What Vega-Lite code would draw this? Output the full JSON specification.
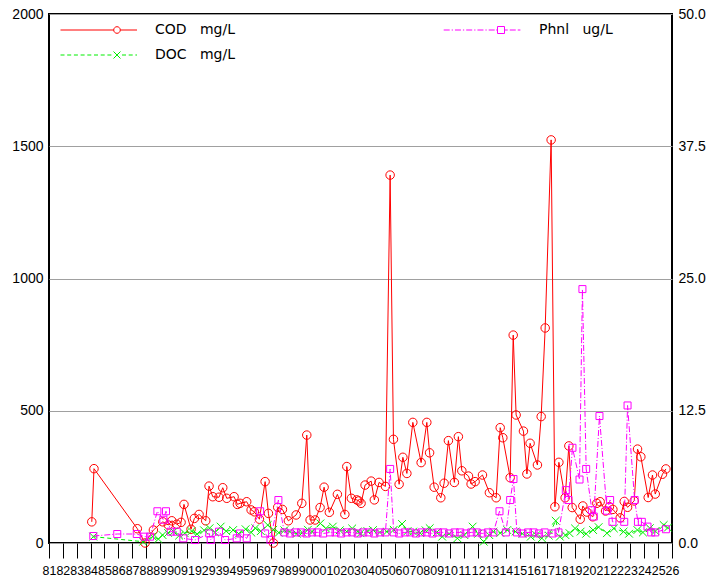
{
  "$schema": "https://vega.github.io/schema/vega-lite/v6.json",
  "width": 623,
  "height": 529,
  "autosize": {"type": "none"},
  "padding": {"left": 49, "top": 14, "right": 47, "bottom": 42},
  "background": "white",
  "config": {
    "view": {"stroke": "black", "strokeWidth": 2},
    "axis": {"domain": false, "labelColor": "black", "labelFont": "Liberation Sans", "title": null}
  },
  "datasets": {
    "cod": [
      {"t": 1984.09, "v": 80}, {"t": 1984.25, "v": 281}, {"t": 1987.38, "v": 54}, {"t": 1987.94, "v": 0},
      {"t": 1988.54, "v": 49}, {"t": 1989.22, "v": 80}, {"t": 1989.62, "v": 68}, {"t": 1989.87, "v": 84},
      {"t": 1990.23, "v": 71}, {"t": 1990.54, "v": 78}, {"t": 1990.75, "v": 146}, {"t": 1991.26, "v": 52},
      {"t": 1991.5, "v": 93}, {"t": 1991.84, "v": 108}, {"t": 1992.32, "v": 84}, {"t": 1992.56, "v": 215},
      {"t": 1992.83, "v": 175}, {"t": 1993.28, "v": 173}, {"t": 1993.55, "v": 209}, {"t": 1993.84, "v": 169},
      {"t": 1994.37, "v": 175}, {"t": 1994.61, "v": 146}, {"t": 1994.8, "v": 150}, {"t": 1995.28, "v": 156},
      {"t": 1995.6, "v": 125}, {"t": 1995.83, "v": 118}, {"t": 1996.2, "v": 90}, {"t": 1996.61, "v": 232},
      {"t": 1996.85, "v": 112}, {"t": 1997.21, "v": 0}, {"t": 1997.52, "v": 135}, {"t": 1997.86, "v": 127},
      {"t": 1998.29, "v": 84}, {"t": 1998.85, "v": 106}, {"t": 1999.26, "v": 150}, {"t": 1999.62, "v": 408},
      {"t": 1999.86, "v": 87}, {"t": 2000.22, "v": 87}, {"t": 2000.58, "v": 134}, {"t": 2000.87, "v": 211},
      {"t": 2001.25, "v": 116}, {"t": 2001.83, "v": 184}, {"t": 2002.37, "v": 108}, {"t": 2002.51, "v": 289},
      {"t": 2002.84, "v": 169}, {"t": 2003.23, "v": 163}, {"t": 2003.38, "v": 159}, {"t": 2003.54, "v": 150},
      {"t": 2003.83, "v": 219}, {"t": 2004.27, "v": 234}, {"t": 2004.5, "v": 163}, {"t": 2004.84, "v": 229},
      {"t": 2005.3, "v": 214}, {"t": 2005.64, "v": 1391}, {"t": 2005.88, "v": 392}, {"t": 2006.29, "v": 222},
      {"t": 2006.56, "v": 324}, {"t": 2006.85, "v": 263}, {"t": 2007.28, "v": 456}, {"t": 2007.88, "v": 304},
      {"t": 2008.29, "v": 456}, {"t": 2008.49, "v": 341}, {"t": 2008.82, "v": 211}, {"t": 2009.3, "v": 171},
      {"t": 2009.54, "v": 226}, {"t": 2009.85, "v": 387}, {"t": 2010.28, "v": 229}, {"t": 2010.57, "v": 402},
      {"t": 2010.82, "v": 273}, {"t": 2011.3, "v": 253}, {"t": 2011.49, "v": 223}, {"t": 2011.78, "v": 232},
      {"t": 2012.31, "v": 257}, {"t": 2012.81, "v": 190}, {"t": 2013.3, "v": 171}, {"t": 2013.59, "v": 436},
      {"t": 2013.78, "v": 398}, {"t": 2014.31, "v": 247}, {"t": 2014.53, "v": 786}, {"t": 2014.74, "v": 484},
      {"t": 2015.27, "v": 423}, {"t": 2015.52, "v": 261}, {"t": 2015.75, "v": 377}, {"t": 2016.28, "v": 295},
      {"t": 2016.55, "v": 478}, {"t": 2016.84, "v": 813}, {"t": 2017.27, "v": 1524}, {"t": 2017.54, "v": 137},
      {"t": 2017.83, "v": 305}, {"t": 2018.28, "v": 171}, {"t": 2018.55, "v": 367}, {"t": 2018.79, "v": 134},
      {"t": 2019.37, "v": 90}, {"t": 2019.56, "v": 140}, {"t": 2019.85, "v": 117}, {"t": 2020.28, "v": 99},
      {"t": 2020.57, "v": 150}, {"t": 2020.81, "v": 156}, {"t": 2021.2, "v": 121}, {"t": 2021.48, "v": 137},
      {"t": 2021.73, "v": 127}, {"t": 2022.26, "v": 95}, {"t": 2022.55, "v": 157}, {"t": 2022.79, "v": 135},
      {"t": 2023.27, "v": 159}, {"t": 2023.51, "v": 355}, {"t": 2023.75, "v": 326}, {"t": 2024.28, "v": 172},
      {"t": 2024.59, "v": 257}, {"t": 2024.79, "v": 185}, {"t": 2025.31, "v": 260}, {"t": 2025.56, "v": 280}
    ],
    "doc": [
      {"t": 1984.2, "v": 24}, {"t": 1987.8, "v": 5}, {"t": 1988.5, "v": 24}, {"t": 1988.9, "v": 15},
      {"t": 1989.2, "v": 30}, {"t": 1989.6, "v": 38}, {"t": 1990.0, "v": 43}, {"t": 1990.4, "v": 28},
      {"t": 1990.8, "v": 37}, {"t": 1991.3, "v": 45}, {"t": 1991.7, "v": 34}, {"t": 1992.2, "v": 48},
      {"t": 1992.6, "v": 56}, {"t": 1993.0, "v": 40}, {"t": 1993.4, "v": 62}, {"t": 1993.8, "v": 45},
      {"t": 1994.3, "v": 49}, {"t": 1994.7, "v": 35}, {"t": 1995.2, "v": 52}, {"t": 1995.6, "v": 40},
      {"t": 1995.9, "v": 56}, {"t": 1996.3, "v": 45}, {"t": 1996.8, "v": 68}, {"t": 1997.2, "v": 50},
      {"t": 1997.6, "v": 39}, {"t": 1998.0, "v": 48}, {"t": 1998.4, "v": 43}, {"t": 1998.9, "v": 35},
      {"t": 1999.3, "v": 39}, {"t": 1999.7, "v": 50}, {"t": 2000.0, "v": 43}, {"t": 2000.6, "v": 74},
      {"t": 2001.0, "v": 55}, {"t": 2001.5, "v": 62}, {"t": 2002.0, "v": 48}, {"t": 2002.5, "v": 43},
      {"t": 2002.9, "v": 55}, {"t": 2003.3, "v": 43}, {"t": 2003.5, "v": 37}, {"t": 2004.0, "v": 45},
      {"t": 2004.4, "v": 49}, {"t": 2004.9, "v": 40}, {"t": 2005.4, "v": 43}, {"t": 2005.9, "v": 50},
      {"t": 2006.5, "v": 72}, {"t": 2006.9, "v": 45}, {"t": 2007.3, "v": 43}, {"t": 2007.8, "v": 38},
      {"t": 2008.2, "v": 48}, {"t": 2008.5, "v": 56}, {"t": 2009.0, "v": 40}, {"t": 2009.4, "v": 24},
      {"t": 2009.9, "v": 35}, {"t": 2010.5, "v": 18}, {"t": 2011.0, "v": 30}, {"t": 2011.6, "v": 62},
      {"t": 2012.0, "v": 35}, {"t": 2012.4, "v": 5}, {"t": 2012.8, "v": 30}, {"t": 2013.1, "v": 43},
      {"t": 2013.6, "v": 38}, {"t": 2014.1, "v": 49}, {"t": 2014.7, "v": 43}, {"t": 2015.2, "v": 35},
      {"t": 2015.8, "v": 24}, {"t": 2016.2, "v": 30}, {"t": 2016.6, "v": 18}, {"t": 2017.1, "v": 28},
      {"t": 2017.6, "v": 84}, {"t": 2017.9, "v": 24}, {"t": 2018.3, "v": 30}, {"t": 2018.6, "v": 37},
      {"t": 2019.0, "v": 55}, {"t": 2019.4, "v": 43}, {"t": 2019.8, "v": 35}, {"t": 2020.3, "v": 49},
      {"t": 2020.7, "v": 60}, {"t": 2021.3, "v": 37}, {"t": 2021.8, "v": 55}, {"t": 2022.5, "v": 43},
      {"t": 2022.9, "v": 35}, {"t": 2023.5, "v": 49}, {"t": 2023.9, "v": 40}, {"t": 2024.4, "v": 56},
      {"t": 2024.8, "v": 45}, {"t": 2025.4, "v": 68}, {"t": 2025.7, "v": 58}
    ],
    "phnl": [
      {"t": 1984.2, "v": 0.66}, {"t": 1985.93, "v": 0.85}, {"t": 1987.34, "v": 0.85}, {"t": 1987.89, "v": 0.6},
      {"t": 1988.3, "v": 0.6}, {"t": 1988.83, "v": 3.0}, {"t": 1989.26, "v": 2.2}, {"t": 1989.45, "v": 3.0},
      {"t": 1989.79, "v": 1.07}, {"t": 1990.23, "v": 1.07}, {"t": 1990.7, "v": 0.44}, {"t": 1991.55, "v": 0.28},
      {"t": 1992.58, "v": 0.9}, {"t": 1992.68, "v": 0.28}, {"t": 1993.28, "v": 1.07}, {"t": 1993.72, "v": 0.28},
      {"t": 1994.56, "v": 0.44}, {"t": 1994.8, "v": 0.9}, {"t": 1995.28, "v": 0.44}, {"t": 1996.25, "v": 3.0},
      {"t": 1996.61, "v": 0.9}, {"t": 1997.0, "v": 0.3}, {"t": 1997.57, "v": 4.06}, {"t": 1998.0, "v": 1.0},
      {"t": 1998.4, "v": 0.9}, {"t": 1998.8, "v": 1.0}, {"t": 1999.2, "v": 1.0}, {"t": 1999.6, "v": 0.9},
      {"t": 2000.0, "v": 1.0}, {"t": 2000.4, "v": 1.0}, {"t": 2000.8, "v": 0.9}, {"t": 2001.3, "v": 1.0},
      {"t": 2001.7, "v": 1.0}, {"t": 2002.1, "v": 0.9}, {"t": 2002.5, "v": 1.0}, {"t": 2002.9, "v": 1.0},
      {"t": 2003.3, "v": 0.9}, {"t": 2003.7, "v": 1.0}, {"t": 2004.1, "v": 1.0}, {"t": 2004.5, "v": 0.9},
      {"t": 2004.9, "v": 1.0}, {"t": 2005.3, "v": 1.0}, {"t": 2005.64, "v": 7.0}, {"t": 2005.9, "v": 1.0},
      {"t": 2006.3, "v": 0.9}, {"t": 2006.7, "v": 1.0}, {"t": 2007.1, "v": 1.0}, {"t": 2007.5, "v": 0.9},
      {"t": 2007.9, "v": 1.0}, {"t": 2008.3, "v": 1.0}, {"t": 2008.7, "v": 0.9}, {"t": 2009.1, "v": 1.0},
      {"t": 2009.5, "v": 1.0}, {"t": 2009.9, "v": 0.9}, {"t": 2010.3, "v": 1.0}, {"t": 2010.7, "v": 1.0},
      {"t": 2011.1, "v": 0.9}, {"t": 2011.5, "v": 1.0}, {"t": 2011.9, "v": 1.0}, {"t": 2012.3, "v": 0.9},
      {"t": 2012.7, "v": 1.0}, {"t": 2013.1, "v": 1.0}, {"t": 2013.54, "v": 3.0}, {"t": 2014.0, "v": 1.0},
      {"t": 2014.31, "v": 4.06}, {"t": 2014.55, "v": 6.05}, {"t": 2014.8, "v": 1.0}, {"t": 2015.2, "v": 0.9},
      {"t": 2015.6, "v": 1.0}, {"t": 2016.0, "v": 1.0}, {"t": 2016.4, "v": 0.9}, {"t": 2016.8, "v": 1.0},
      {"t": 2017.37, "v": 0.9}, {"t": 2017.8, "v": 1.0}, {"t": 2018.33, "v": 5.0}, {"t": 2018.52, "v": 4.06},
      {"t": 2018.81, "v": 9.0}, {"t": 2019.32, "v": 6.0}, {"t": 2019.53, "v": 24.0}, {"t": 2019.8, "v": 7.0},
      {"t": 2020.21, "v": 3.1}, {"t": 2020.35, "v": 2.5}, {"t": 2020.76, "v": 12.0}, {"t": 2021.3, "v": 3.05},
      {"t": 2021.53, "v": 4.06}, {"t": 2021.7, "v": 2.0}, {"t": 2022.55, "v": 2.0}, {"t": 2022.79, "v": 13.0},
      {"t": 2023.3, "v": 4.06}, {"t": 2023.54, "v": 2.0}, {"t": 2023.82, "v": 2.0}, {"t": 2024.23, "v": 1.55},
      {"t": 2024.5, "v": 1.0}, {"t": 2024.79, "v": 1.0}, {"t": 2025.56, "v": 1.3}
    ],
    "legL": [{"s": "COD\u00a0\u00a0\u00a0mg/L"}, {"s": "DOC\u00a0\u00a0\u00a0mg/L"}],
    "legR": [{"s": "Phnl\u00a0\u00a0\u00a0ug/L"}]
  },
  "encoding": {
    "x": {
      "field": "t", "type": "quantitative",
      "scale": {"domain": [1981, 2026], "nice": false, "zero": false},
      "axis": {
        "values": [1981,1982,1983,1984,1985,1986,1987,1988,1989,1990,1991,1992,1993,1994,1995,1996,1997,1998,1999,2000,2001,2002,2003,2004,2005,2006,2007,2008,2009,2010,2011,2012,2013,2014,2015,2016,2017,2018,2019,2020,2021,2022,2023,2024,2025,2026],
        "labelExpr": "substring(toString(datum.value), 2, 4)",
        "tickSize": 15, "tickColor": "black", "tickWidth": 1,
        "grid": false, "labelFontSize": 12.4, "labelPadding": 6,
        "labelOverlap": false, "labelFlush": false, "labelBound": false
      }
    }
  },
  "layer": [
    {
      "encoding": {
        "y": {
          "field": "v", "type": "quantitative",
          "scale": {"domain": [0, 2000], "nice": false},
          "axis": {
            "orient": "left", "values": [0, 500, 1000, 1500, 2000], "format": "d",
            "grid": true, "gridColor": "#a0a0a0", "gridWidth": 1,
            "ticks": false, "labelFontSize": 14, "labelPadding": 6
          }
        }
      },
      "layer": [
        {"data": {"name": "cod"}, "mark": {"type": "line", "color": "#ff0000", "strokeWidth": 1}},
        {"data": {"name": "cod"}, "mark": {"type": "point", "shape": "circle", "color": "#ff0000", "filled": false, "size": 72, "strokeWidth": 1, "opacity": 1}},
        {"data": {"name": "doc"}, "mark": {"type": "line", "color": "#00ee00", "strokeWidth": 1, "strokeDash": [4, 3]}},
        {"data": {"name": "doc"}, "mark": {"type": "point", "shape": "M-1,-1L1,1M-1,1L1,-1", "color": "#00ee00", "filled": false, "size": 60, "strokeWidth": 1, "opacity": 1}},
        {
          "data": {"name": "legL"},
          "transform": [{"filter": "false"}],
          "mark": {"type": "point", "filled": false, "strokeWidth": 1, "opacity": 1},
          "encoding": {
            "color": {
              "field": "s", "type": "nominal",
              "scale": {"domain": ["COD\u00a0\u00a0\u00a0mg/L", "DOC\u00a0\u00a0\u00a0mg/L"], "range": ["#ff0000", "#00ee00"]},
              "legend": {"orient": "none", "legendX": 61, "legendY": 9, "title": null, "symbolSize": 100, "symbolStrokeWidth": 1, "labelFont": "DejaVu Sans", "labelFontSize": 14, "labelColor": "black", "labelOffset": 31, "rowPadding": 11, "padding": 0, "symbolOffset": 0}
            },
            "shape": {
              "field": "s", "type": "nominal",
              "scale": {"domain": ["COD\u00a0\u00a0\u00a0mg/L", "DOC\u00a0\u00a0\u00a0mg/L"], "range": [
                "M-11.3,0H-0.66M0.66,0H4M0.66,0A0.66,0.66,0,1,1,-0.66,0A0.66,0.66,0,1,1,0.66,0",
                "M-11.3,0H-10.5M-9.96,0H-9.16M-8.62,0H-7.82M-7.28,0H-6.48M-5.94,0H-5.14M-4.6,0H-3.8M-3.26,0H-2.46M-1.92,0H-1.12M-0.7,-0.7L0.7,0.7M-0.7,0.7L0.7,-0.7M1,0H1.8M2.34,0H3.14M3.68,0H4"
              ]},
              "legend": {"orient": "none", "legendX": 61, "legendY": 9, "title": null, "symbolSize": 100, "symbolStrokeWidth": 1, "labelFont": "DejaVu Sans", "labelFontSize": 14, "labelColor": "black", "labelOffset": 31, "rowPadding": 11, "padding": 0, "symbolOffset": 0}
            }
          }
        }
      ]
    },
    {
      "encoding": {
        "y": {
          "field": "v", "type": "quantitative",
          "scale": {"domain": [0, 50], "nice": false},
          "axis": {
            "orient": "right", "values": [0, 12.5, 25, 37.5, 50], "format": ".1f",
            "grid": false, "ticks": false, "labelFontSize": 14, "labelPadding": 6
          }
        }
      },
      "layer": [
        {"data": {"name": "phnl"}, "mark": {"type": "line", "color": "#ff00ff", "strokeWidth": 1, "strokeDash": [6, 2, 1, 2]}},
        {"data": {"name": "phnl"}, "mark": {"type": "point", "shape": "square", "color": "#ff00ff", "filled": false, "size": 49, "strokeWidth": 1, "opacity": 1}},
        {
          "data": {"name": "legR"},
          "transform": [{"filter": "false"}],
          "mark": {"type": "point", "filled": false, "strokeWidth": 1, "opacity": 1},
          "encoding": {
            "color": {
              "field": "s", "type": "nominal",
              "scale": {"domain": ["Phnl\u00a0\u00a0\u00a0ug/L"], "range": ["#ff00ff"]},
              "legend": {"orient": "none", "legendX": 445, "legendY": 9, "title": null, "symbolSize": 100, "symbolStrokeWidth": 1, "labelFont": "DejaVu Sans", "labelFontSize": 14, "labelColor": "black", "labelOffset": 31, "rowPadding": 11, "padding": 0, "symbolOffset": 0}
            },
            "shape": {
              "field": "s", "type": "nominal",
              "scale": {"domain": ["Phnl\u00a0\u00a0\u00a0ug/L"], "range": [
                "M-11.46,0H-10.26M-9.86,0H-9.61M-9.21,0H-8.01M-7.61,0H-7.36M-6.96,0H-5.76M-5.36,0H-5.11M-4.71,0H-3.51M-3.11,0H-2.86M-2.46,0H-1.26M-0.96,0H-0.76M-0.7,-0.7H0.7V0.7H-0.7ZM0.76,0H1.35M1.75,0H2.95M3.35,0H3.88"
              ]},
              "legend": {"orient": "none", "legendX": 445, "legendY": 9, "title": null, "symbolSize": 100, "symbolStrokeWidth": 1, "labelFont": "DejaVu Sans", "labelFontSize": 14, "labelColor": "black", "labelOffset": 31, "rowPadding": 11, "padding": 0, "symbolOffset": 0}
            }
          }
        }
      ]
    }
  ],
  "resolve": {"scale": {"y": "independent", "color": "independent", "shape": "independent"}}
}
